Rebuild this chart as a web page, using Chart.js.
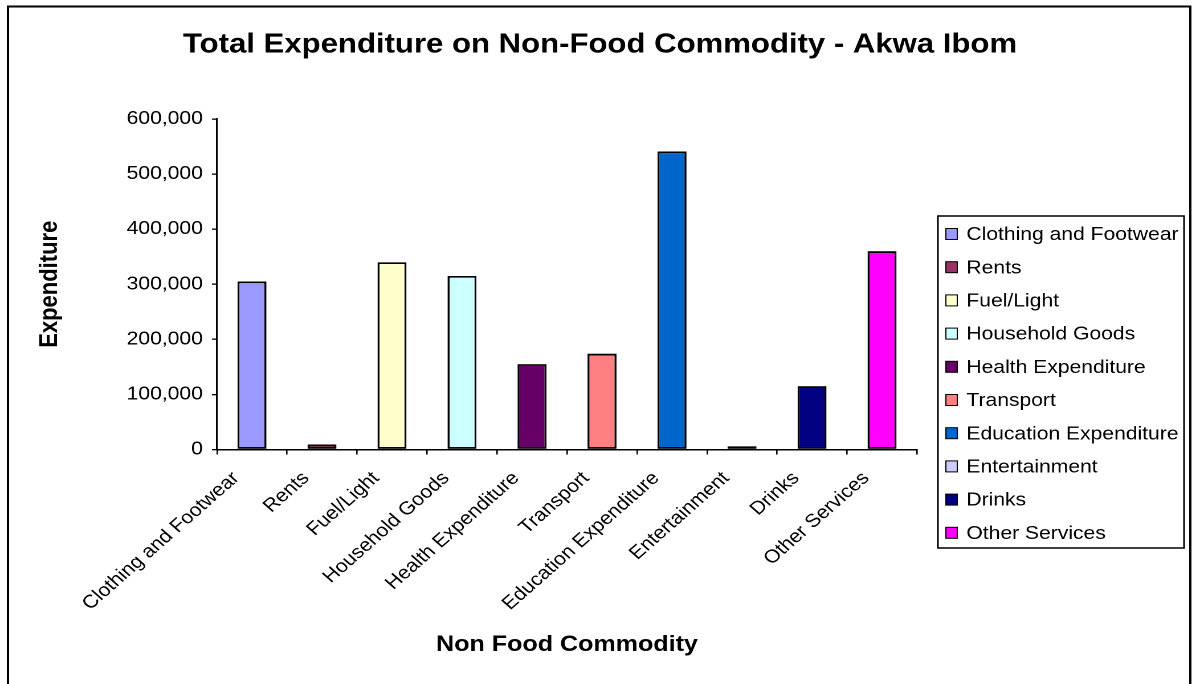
<!DOCTYPE html>
<html>
<head>
<meta charset="utf-8">
<title>Total Expenditure on Non-Food Commodity - Akwa Ibom</title>
<script src="https://cdn.jsdelivr.net/npm/chart.js@4.4.1/dist/chart.umd.min.js"></script>
<style>
  html, body { margin: 0; padding: 0; background: #fff; overflow: hidden; }
  /* the chart is laid out on a narrower canvas and widened to the page */
  #wrap {
    position: absolute; left: 0; top: 0;
    width: 1046px; height: 684px;
    transform: scaleX(1.1396); transform-origin: 0 0;
  }
</style>
</head>
<body>
<div id="wrap"><canvas id="chart"></canvas></div>
<script>
// Non-food commodity groups
const categories = [
  'Clothing and Footwear', 'Rents', 'Fuel/Light', 'Household Goods',
  'Health Expenditure', 'Transport', 'Education Expenditure',
  'Entertainment', 'Drinks', 'Other Services'
];

// Total expenditure per group
const expenditure = [305000, 9000, 340000, 315000, 155000, 174000, 541000, 6000, 115000, 360000];

// Fill colour of each group
const barColors = [
  '#9999FF', '#993366', '#FFFFCC', '#CCFFFF', '#660066',
  '#FF8080', '#0066CC', '#CCCCFF', '#000080', '#FF00FF'
];

// Value axis ticks
const yTickValues = [0, 100000, 200000, 300000, 400000, 500000, 600000];

const FONT = '"Liberation Sans", Arial, Helvetica, sans-serif';

// White page, outer frame and the boxed legend on the right
const framePlugin = {
  id: 'frameAndLegend',
  beforeDraw(chart) {
    const ctx = chart.ctx;
    ctx.save();
    ctx.fillStyle = '#fff';
    ctx.fillRect(0, 0, chart.width, chart.height);
    ctx.restore();
  },
  afterDraw(chart) {
    const ctx = chart.ctx;
    ctx.save();
    ctx.strokeStyle = '#000';
    ctx.lineWidth = 2;
    ctx.strokeRect(7, 6.5, 1037.5, 700);

    // legend box
    ctx.lineWidth = 1.5;
    ctx.strokeRect(823, 216, 216, 332);
    ctx.font = '18.5px ' + FONT;
    ctx.textBaseline = 'middle';
    ctx.textAlign = 'left';
    categories.forEach((name, i) => {
      const cy = 234 + i * 33.2;
      ctx.fillStyle = barColors[i];
      ctx.fillRect(830, cy - 5.5, 10, 11);
      ctx.lineWidth = 1;
      ctx.strokeStyle = '#000';
      ctx.strokeRect(830, cy - 5.5, 10, 11);
      ctx.fillStyle = '#000';
      ctx.fillText(name, 848, cy + 1);
    });
    ctx.restore();
  }
};

Chart.defaults.color = '#000';
Chart.defaults.font.family = FONT;

new Chart(document.getElementById('chart'), {
  type: 'bar',
  data: {
    labels: categories,
    datasets: [{
      label: 'Expenditure',
      data: expenditure,
      backgroundColor: barColors,
      borderColor: '#000',
      borderWidth: 1.8,
      borderSkipped: false,
      categoryPercentage: 1.0,
      barPercentage: 0.414,
      yAxisID: 'y'
    }]
  },
  options: {
    responsive: true,
    maintainAspectRatio: false,
    devicePixelRatio: 2,
    animation: false,
    layout: { padding: { left: 7, right: 0, top: 10, bottom: 0 } },
    plugins: {
      legend: { display: false },
      tooltip: { enabled: false },
      title: {
        display: true,
        text: 'Total Expenditure on Non-Food Commodity - Akwa Ibom',
        color: '#000',
        font: { size: 27.3, weight: 'bold', family: FONT, lineHeight: 1.2 },
        padding: { top: 18.6, bottom: 57.6 }
      }
    },
    scales: {
      x: {
        grid: {
          display: true,
          offset: true,
          drawOnChartArea: false,
          drawTicks: true,
          tickLength: 5,
          color: '#000',
          lineWidth: 1.3
        },
        border: { display: true, color: '#000', width: 1.5 },
        ticks: {
          autoSkip: false,
          maxRotation: 45,
          minRotation: 45,
          padding: 13,
          labelOffset: -14,
          font: { size: 18.5, family: FONT }
        },
        title: {
          display: true,
          text: 'Non Food Commodity',
          color: '#000',
          font: { size: 22, weight: 'bold', family: FONT, lineHeight: 1.2 },
          padding: { top: 0, bottom: 25.8 }
        },
        afterFit(scale) { scale.height = 234.5; }
      },
      y: {
        min: 0,
        max: 600000,
        grid: {
          display: true,
          drawOnChartArea: false,
          drawTicks: true,
          tickLength: 4.4,
          color: '#000',
          lineWidth: 1.3
        },
        border: { display: true, color: '#000', width: 1.5 },
        afterBuildTicks(scale) {
          scale.ticks = yTickValues.map(v => ({ value: v }));
        },
        ticks: {
          padding: 8,
          font: { size: 18.5, family: FONT },
          callback: v => Number(v).toLocaleString('en-US')
        },
        title: {
          display: true,
          text: 'Expenditure',
          color: '#000',
          font: { size: 22, weight: 'bold', family: FONT, lineHeight: 1.2 },
          padding: { top: 23.7, bottom: 0 }
        },
        afterFit(scale) { scale.width = 183.4; }
      },
      // empty right-hand axis that keeps room for the legend box
      legendSpace: {
        type: 'linear',
        position: 'right',
        min: 0,
        max: 1,
        grid: { display: false },
        border: { display: false },
        ticks: { display: false },
        title: { display: false },
        afterFit(scale) { scale.width = 241.3; }
      }
    }
  },
  plugins: [framePlugin]
});
</script>
</body>
</html>
